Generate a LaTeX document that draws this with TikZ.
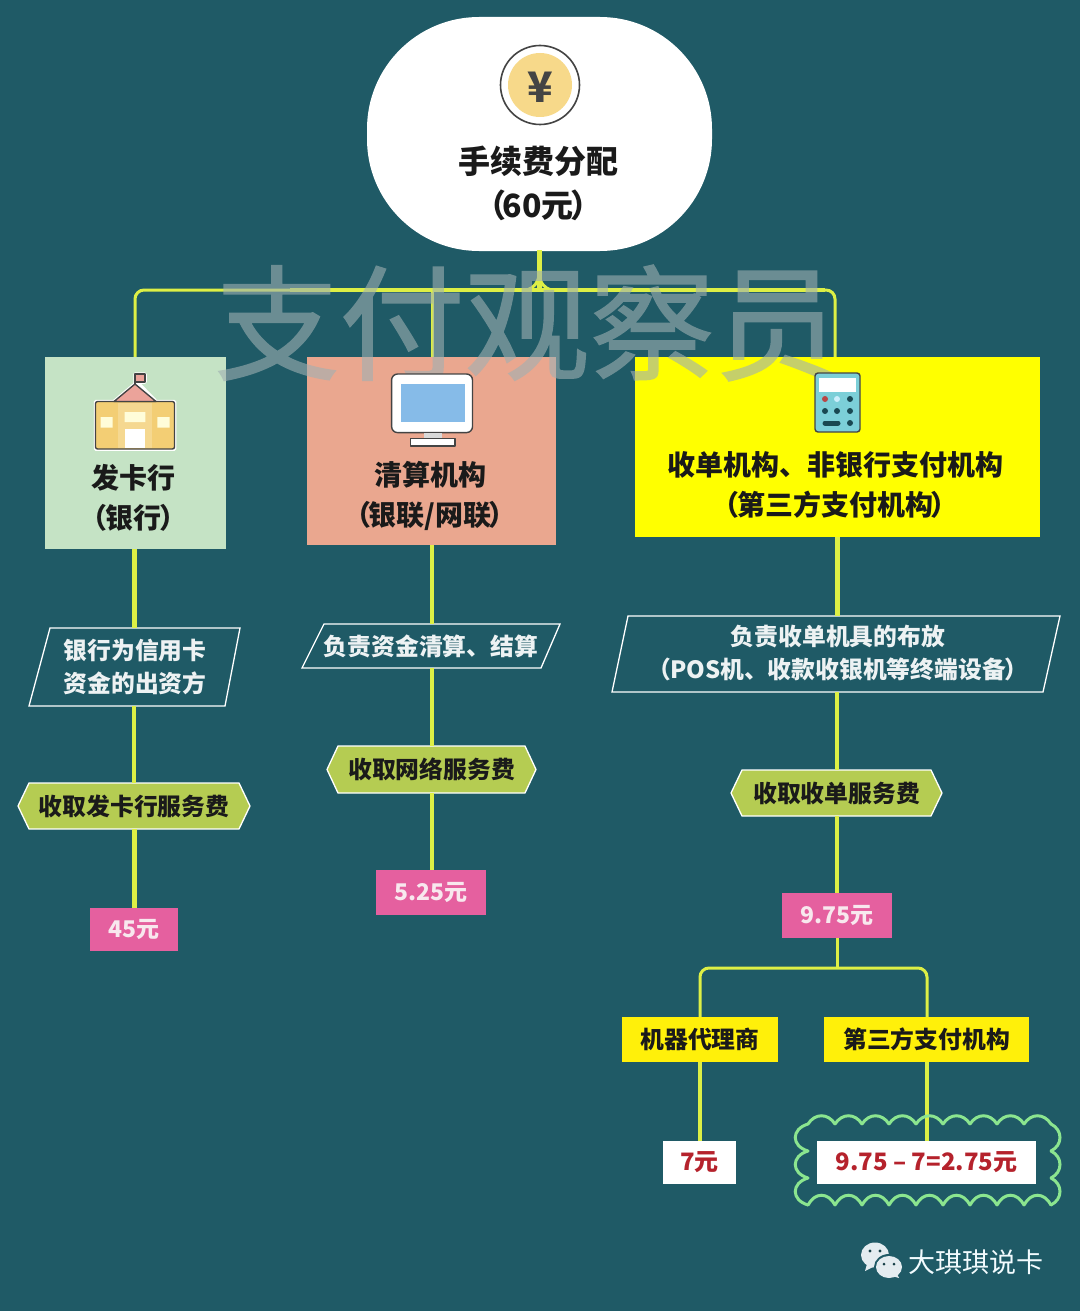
\documentclass[tikz,border=0pt]{standalone}
\usepackage{fontspec}
\setmainfont{Noto Sans CJK SC}
\newfontfamily\wmfont[FakeBold=1.2]{Noto Sans CJK SC}
\usetikzlibrary{calc}
\definecolor{bgc}{HTML}{1F5A66}
\definecolor{conn}{HTML}{DDEF45}
\definecolor{hexc}{HTML}{B5CC52}
\definecolor{pinkc}{HTML}{E5609F}
\definecolor{pinkt}{HTML}{F8E8EE}
\definecolor{redt}{HTML}{B5222C}
\definecolor{ink}{HTML}{1A1A1A}
\definecolor{icon}{HTML}{444444}
\definecolor{bankc}{HTML}{C5E3C5}
\definecolor{clearc}{HTML}{EAA78F}
\definecolor{acqc}{HTML}{FFFF00}
\definecolor{smally}{HTML}{FFF00A}
\definecolor{coin}{HTML}{F7D98A}
\definecolor{wall}{HTML}{F3CE74}
\definecolor{roof}{HTML}{EBA39A}
\definecolor{screenc}{HTML}{86BBE8}
\definecolor{calcc}{HTML}{7CCFD8}
\definecolor{wechat}{HTML}{E4ECF0}
\definecolor{puffc}{HTML}{8BE58F}
\definecolor{wmc}{HTML}{9FB0B2}
\tikzset{
 x=1pt,y=-1pt,
 every node/.style={inner sep=0pt,outer sep=0pt,align=center},
 thicklink/.style={draw=conn,line width=5pt},
 midlink/.style={draw=conn,line width=4pt},
 thinlink/.style={draw=conn,line width=3pt,rounded corners=9pt},
 box/.style={minimum width=#1,font=\fontsize{28}{40}\selectfont\bfseries,text=ink},
 lab/.style={font=\fontsize{23.8}{33}\selectfont\bfseries,text=ink},
 paratxt/.style={font=\fontsize{23.8}{33}\selectfont\bfseries,text=white!92!bgc},
 paraline/.style={draw=white,line width=1.3pt},
 hexfill/.style={fill=hexc,draw=white,line width=1.3pt},
 pinkbox/.style={fill=pinkc,text=pinkt,font=\fontsize{23}{30}\selectfont\bfseries},
 ybox/.style={fill=smally,lab},
 wbox/.style={fill=white,text=redt,font=\fontsize{24}{32}\selectfont\bfseries},
 ic/.style={draw=icon,line width=1.4pt,line join=round},
 puff/.style={draw=puffc,line width=3pt,line cap=round},
}
\newcommand{\LPk}[1]{（\kern-#1pt}
\newcommand{\RPk}[1]{\kern-#1pt）}
\newcommand{\rectnode}[6]{\node[#2,minimum width=#4-#3,minimum height=#6-#5] (#1) at ({(#3+#4)/2},{(#5+#6)/2}) {};}
\newcommand{\hexnode}[6]{%name x0 x1 y0 y1 text
 \draw[hexfill] (#2,{(#4+#5)/2}) -- (#2+11,#4) -- (#3-11,#4) -- (#3,{(#4+#5)/2}) -- (#3-11,#5) -- (#2+11,#5) -- cycle;
 \node[lab,minimum width=#3-#2,minimum height=#5-#4] (#1) at ({(#2+#3)/2},{(#4+#5)/2}) {#6};}
\begin{document}
\begin{tikzpicture}
\useasboundingbox (0,0) rectangle (1080,1311);
\fill[bgc] (0,0) rectangle (1080,1311);
\coordinate (rootb) at (539,250);
\coordinate (busL) at (135,290);
\coordinate (busM) at (432,290);
\coordinate (busR) at (835,290);
\coordinate (junc) at (539,290);
% top node
\node[fill=white,rounded corners=112pt,minimum width=345pt,minimum height=234pt] (root) at (539.5,134) {};
\node[font=\fontsize{32}{44}\selectfont\bfseries,text=ink] (roottext) at (538,183) {手续费分配\\\LPk{3.5}60元\RPk{3.5}};
\draw[icon,line width=1.6pt,fill=white] (540,85) circle (39.5);
\fill[coin] (540,85) circle (32);
\node[font=\fontsize{42}{42}\selectfont\bfseries,text=icon] (yen) at (540,87) {¥};
% connectors (under the boxes)
\draw[thicklink] (rootb) -- (junc);
\draw[thinlink] (junc) -- (busL) -- (135,357);
\draw[thinlink] (junc) -- (busR) -- (835,357);
\draw[midlink] (290,290) -- (825,290);
\draw[thinlink] (busM) -- (432,357);
\draw[conn,line width=3pt,line join=round] (527,290) .. controls (534,288) and (538,282) .. (539,276) .. controls (540,282) and (544,288) .. (551,290);
% boxes
\rectnode{b1}{fill=bankc}{45}{226}{357}{549}
\rectnode{b2}{fill=clearc}{307}{556}{357}{545}
\rectnode{b3}{fill=acqc}{635}{1040}{357}{537}
% watermark
\begin{scope}[transparency group,opacity=.6]
\node[font=\wmfont\fontsize{125}{125}\selectfont,text=wmc] (wm) at (527,323) {支付观察员};
\end{scope}
% texts in boxes
\node[box=181pt] (t1) at (133,498) {发卡行\\\LPk{2}银行\RPk{2}};
\node[box=249pt] (t2) at (430,496) {清算机构\\\LPk{2.5}银联/网联\RPk{2.5}};
\node[box=405pt] (t3) at (835,485) {收单机构、非银行支付机构\\\LPk{2.3}第三方支付机构\RPk{2.3}};
% parallelograms
\draw[paraline] (50,628) -- (240,628) -- (225,706) -- (29,706) -- cycle;
\node[paratxt] (p1) at (135,667) {银行为信用卡\\资金的出资方};
\draw[paraline] (324,624) -- (560,624) -- (541,668) -- (302,668) -- cycle;
\node[paratxt] (p2) at (431,646) {负责资金清算、结算};
\draw[paraline] (628,616) -- (1060,616) -- (1043,692) -- (612,692) -- cycle;
\node[paratxt] (p3) at (838,653) {负责收单机具的布放\\\LPk{1.7}POS机、收款收银机等终端设备\RPk{1.7}};
\coordinate (p1t) at (134,628); \coordinate (p1b) at (134,706);
\coordinate (p2t) at (432,624); \coordinate (p2b) at (432,668);
\coordinate (p3t) at (837,616); \coordinate (p3b) at (837,692);
% hexagons
\hexnode{h1}{18}{250}{783}{829}{收取发卡行服务费}
\hexnode{h2}{327}{536}{746}{793}{收取网络服务费}
\hexnode{h3}{731}{942}{770}{816}{收取收单服务费}
% amounts
\node[pinkbox,minimum width=88pt,minimum height=43pt] (m1) at (134,929.5) {45元};
\node[pinkbox,minimum width=110pt,minimum height=45pt] (m2) at (431,892.5) {5.25元};
\node[pinkbox,minimum width=110pt,minimum height=45pt] (m3) at (837,915.5) {9.75元};
\node[ybox,minimum width=156pt,minimum height=45pt] (y1) at (700,1039.5) {机器代理商};
\node[ybox,minimum width=205pt,minimum height=45pt] (y2) at (926.5,1039.5) {第三方支付机构};
\coordinate (y1t) at (700,1017);
\coordinate (y2t) at (927,1017);
% connectors
\draw[thicklink] (134,549) -- (p1t);
\draw[midlink] (p1b) -- (134,783);
\draw[thicklink] (134,829) -- (m1.north);
\draw[midlink] (432,545) -- (p2t);
\draw[midlink] (p2b) -- (432,746);
\draw[midlink] (432,793) -- (432,870);
\draw[thicklink] (837,537) -- (p3t);
\draw[midlink] (p3b) -- (837,770);
\draw[midlink] (837,816) -- (m3.north);
\draw[thinlink] (m3.south) -- (837,968);
\draw[thinlink] (y1t) -- (700,968) -- (927,968) -- (y2t);
\draw[midlink] (y1.south) -- (700,1141);
\draw[midlink] (927,1062) -- (927,1141);
% cloud
\foreach \i in {0,...,8} {\draw[puff] (808+27*\i,1124) .. controls +(7,-11) and +(-7,-11) .. (835+27*\i,1124);}
\foreach \i in {0,...,8} {\draw[puff] (808+27*\i,1205) .. controls +(7,-13) and +(-7,-13) .. (835+27*\i,1205);}
\foreach \i in {0,1,2} {\draw[puff] (808,1124+27*\i) .. controls +(-17,5) and +(-17,-5) .. (808,1151+27*\i);}
\foreach \i in {0,1,2} {\draw[puff] (1051,1124+27*\i) .. controls +(12,6) and +(12,-6) .. (1051,1151+27*\i);}
% result boxes
\node[wbox,minimum width=73pt,minimum height=43pt] (r1) at (699.5,1162.5) {7元};
\node[wbox,minimum width=219pt,minimum height=43pt] (r2) at (926.5,1162.5) {9.75 – 7=2.75元};
% school icon
\draw[white,line width=3.5pt,line join=round] (95.5,449) -- (95.5,401.5) -- (114,401.5) -- (135,384) -- (135,374) -- (145,374) -- (145,382) -- (137,382) -- (156,401.5) -- (174.5,401.5) -- (174.5,449) -- cycle;
\draw[ic,fill=wall,rounded corners=2pt] (95.5,449) -- (95.5,401.5) -- (174.5,401.5) -- (174.5,449) -- cycle;
\fill[wall!80!white] (118,403) rectangle (152,448);
\draw[ic,fill=roof] (114,401.5) -- (135,384) -- (156,401.5) -- cycle;
\draw[ic,fill=roof] (135,384) -- (135,374) -- (145,374) -- (145,382) -- (135,382);
\fill[white!85!yellow] (100.6,417) rectangle (112.6,427.5) (124.7,412) rectangle (145.4,422) (157.4,417) rectangle (169.5,427.5);
\fill[white] (124.7,429) rectangle (145.4,448);
% monitor icon
\draw[ic,fill=white,rounded corners=6pt] (391.6,374) rectangle (472.5,432.6);
\fill[screenc] (401,384) rectangle (464.6,422);
\fill[gray!30] (424,433) rectangle (441.5,438);
\draw[ic,fill=white] (410.5,438.5) rectangle (455,446);
% calculator icon
\draw[ic,fill=calcc,rounded corners=3pt] (815,373) rectangle (860,432);
\fill[white] (819,378) rectangle (856,392);
\fill[red!45!gray] (825,399) circle (3);
\fill[white!80!cyan] (837,399) circle (3);
\fill[bgc!80!black] (850,399) circle (3) (825,411) circle (3) (837,411) circle (3) (850,411) circle (3) (850,423) circle (3);
\draw[bgc!80!black,line width=5pt,line cap=round] (825,423) -- (838,423);
% wechat mark
\fill[wechat] (875,1255) ellipse (14 and 12.5);
\fill[wechat] (867,1264) -- (865,1271) -- (875,1266) -- cycle;
\fill[bgc] (889,1267) ellipse (15 and 13);
\fill[wechat] (889,1267) ellipse (13 and 11);
\fill[wechat] (892,1276) -- (899,1278) -- (896,1272) -- cycle;
\fill[bgc!70!black] (870,1251) circle (1.6) (880,1251) circle (1.6) (884,1264) circle (1.5) (894,1264) circle (1.5);
\node[font=\fontsize{27}{32}\selectfont,text=white!95!cyan] (brand) at (976,1262) {大琪琪说卡};
\end{tikzpicture}
\end{document}
